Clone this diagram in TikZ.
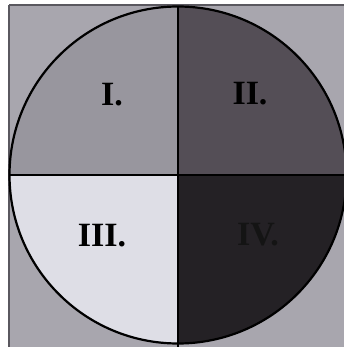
\documentclass[tikz,border=0pt]{standalone}
\usepackage{fontspec}
\setmainfont{Liberation Serif}
\definecolor{bggrey}{RGB}{168,166,174}
\definecolor{qone}{RGB}{152,150,158}
\definecolor{qtwo}{RGB}{84,78,86}
\definecolor{qthree}{RGB}{222,222,230}
\definecolor{qfour}{RGB}{36,33,37}
\definecolor{frame}{RGB}{90,88,95}
\tikzset{lbl/.style={font=\fontsize{34}{34}\selectfont\bfseries, text=black, inner sep=0pt}}
\begin{document}
\begin{tikzpicture}[x=1pt,y=-1pt]
\useasboundingbox (0,0) rectangle (344,347);
\fill[white] (0,0) rectangle (344,347);
\fill[bggrey] (9,5) rectangle (344,347);
\draw[frame, line width=1.8pt] (9,5) -- (9,347);
\draw[frame, line width=1.8pt] (9,5) -- (344,5);
\coordinate (c) at (178,175);
\begin{scope}
\clip (c) circle (168.5);
\fill[qone] (c) rectangle (0,0);
\fill[qtwo] (c) rectangle (350,0);
\fill[qthree] (c) rectangle (0,350);
\fill[qfour] (c) rectangle (350,350);
\end{scope}
\draw[black, line width=2.2pt] (c) circle (168.5);
\draw[black, line width=2.5pt] (178,6) -- (178,347);
\draw[black, line width=2.5pt] (9,175) -- (344,175);
\node[lbl] (l1) at (112,95) {I.};
\node[lbl] (l2) at (250,94) {II.};
\node[lbl] (l3) at (102,236) {III.};
\node[lbl, text=black!92] (l4) at (258,235) {IV.};
\end{tikzpicture}
\end{document}
